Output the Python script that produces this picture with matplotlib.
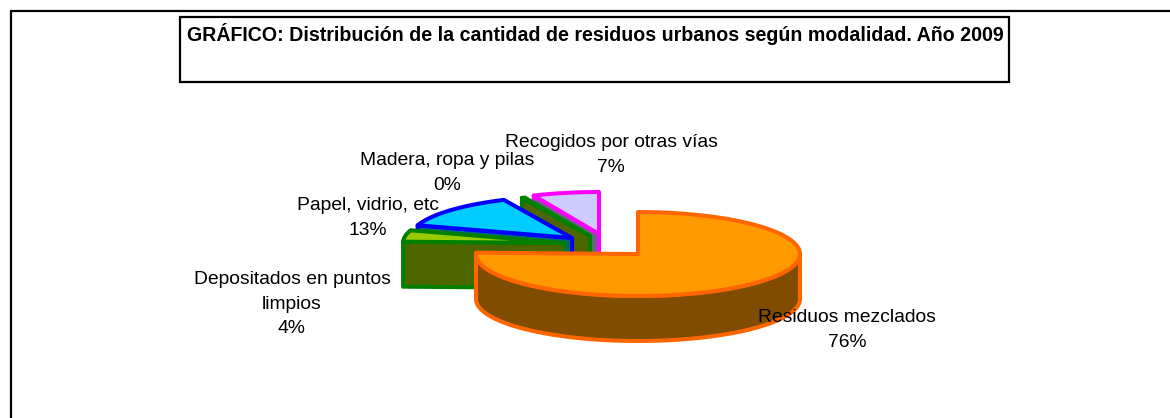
import numpy as np
import matplotlib
matplotlib.use("Agg")
import matplotlib.pyplot as plt
from matplotlib.patches import Polygon, Rectangle

plt.rcParams['font.family'] = ['Liberation Sans', 'DejaVu Sans']

title = "GRÁFICO: Distribución de la cantidad de residuos urbanos según modalidad. Año 2009"
categories = ["Residuos mezclados", "Depositados en puntos\nlimpios", "Papel, vidrio, etc",
              "Madera, ropa y pilas", "Recogidos por otras vías"]
values = [75.5, 4.4, 13.2, 0.3, 6.6]

top_colors = ["#ff9900", "#99cc00", "#00ccff", "#99cc00", "#ccccff"]
side_colors = ["#804d00", "#4d6600", "#006680", "#4d6600", "#666680"]
edge_colors = ["#ff6600", "#008000", "#0000ff", "#008000", "#ff00ff"]
centers = [(638, 254), (565, 243), (572, 238), (590, 236), (599, 234)]
label_xy = [(847, 309), (292, 271), (368, 197), (447, 152), (611, 134)]

RX, RY, DEPTH = 162, 42, 45
LW = 2.9

fig = plt.figure(figsize=(11.7, 4.18), dpi=100)
ax = fig.add_axes([0, 0, 1, 1])
ax.set_xlim(0, 1170)
ax.set_ylim(418, 0)
ax.axis("off")

ax.plot([1170, 10.5, 10.5], [11, 11, 418], color="black", lw=1.6, solid_joinstyle="miter")
ax.add_patch(Rectangle((180, 17), 829, 65, fc="white", ec="black", lw=1.6))
ax.text(595.5, 34, title, ha="center", va="center", fontsize=14.15, fontweight="bold", color="black")


def rim(c, a0, a1, dy=0, n=120):
    t = np.radians(np.linspace(a0, a1, n))
    return np.column_stack([c[0] + RX * np.cos(t), c[1] - RY * np.sin(t) + dy])


def poly(pts, fc, ec, z):
    ax.add_patch(Polygon(pts, closed=True, fc=fc, ec=ec, lw=LW, joinstyle="round", zorder=z))


total = sum(values)
spans = []
a = 90.0
for v in values:
    b = a - 360.0 * v / total
    spans.append((b, a))
    a = b

# back slices first, the large front slice last
for i in [4, 3, 2, 1, 0]:
    lo, hi = spans[i]
    c = centers[i]
    z = 10 + (4 - i) * 3
    for ang, sign in ((hi, 1), (lo, -1)):
        if np.sin(np.radians(ang + sign * 90)) < -1e-6:
            outer = rim(c, ang, ang, n=1)[0]
            poly([c, outer, outer + [0, DEPTH], (c[0], c[1] + DEPTH)], side_colors[i], edge_colors[i], z)
    # outer wall where the rim faces the viewer
    for k in (-1, 0):
        s0, s1 = max(lo, 180 + 360 * k), min(hi, 360 + 360 * k)
        if s1 > s0:
            poly(np.vstack([rim(c, s0, s1), rim(c, s1, s0, DEPTH)]), side_colors[i], edge_colors[i], z + 1)
    poly(np.vstack([[c], rim(c, lo, hi)]), top_colors[i], edge_colors[i], z + 2)

for name, v, xy in zip(categories, values, label_xy):
    ax.text(xy[0], xy[1], f"{name}\n{round(v)}%", ha="center", va="top", fontsize=13.9,
            linespacing=1.58, color="black", zorder=40)

fig.savefig("out.png", dpi=100)
